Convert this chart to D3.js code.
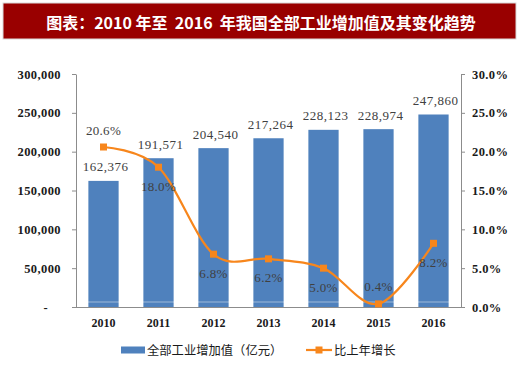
<!DOCTYPE html>
<html><head><meta charset="utf-8">
<script src="https://cdn.jsdelivr.net/npm/d3@7"></script>
<style>body{margin:0;background:#fff}svg{display:block}</style>
</head><body><svg id="c" width="520" height="368"></svg>
<script>
const years = ["2010","2011","2012","2013","2014","2015","2016"];
const valueAdded = [162376, 191571, 204540, 217264, 228123, 228974, 247860];
const growth = [20.6, 18.0, 6.8, 6.2, 5.0, 0.4, 8.2];
const leftTicks = [0, 50000, 100000, 150000, 200000, 250000, 300000];
const rightTicks = [0, 5, 10, 15, 20, 25, 30];
const growthLabelSide = ["above","below","below","below","below","above","below"];
const titleText = "图表：2010 年至  2016  年我国全部工业增加值及其变化趋势";
const legendBar = "全部工业增加值（亿元）";
const legendLine = "比上年增长";

const svg = d3.select("#c");
const W = 520, H = 368;
const m = {l:76, r:59, t:74, b:61};
const blue = "#4f81bd", orange = "#f7861c", axisCol = "#8c8c8c";
const serif = "'Liberation Serif','DejaVu Serif',serif";
const cjk = "'Noto Sans CJK SC','Noto Sans',sans-serif";

// title
svg.append("rect").attr("x",3).attr("y",3).attr("width",513).attr("height",36)
  .attr("fill","#990000").attr("stroke","#d9d9d9").attr("stroke-width",1);
svg.append("text").attr("x",261).attr("y",22).attr("text-anchor","middle")
  .attr("dominant-baseline","central").attr("fill","#fff")
  .attr("font-family",cjk).attr("font-weight","bold").attr("font-size",16)
  .attr("xml:space","preserve").style("white-space","pre").text(titleText);

const x = d3.scaleBand().domain(years).range([m.l, W-m.r]).paddingInner(0.45).paddingOuter(0.225);
const y = d3.scaleLinear().domain([0,300000]).range([H-m.b, m.t]);
const y2 = d3.scaleLinear().domain([0,30]).range([H-m.b, m.t]);

// bars
svg.append("g").selectAll("rect").data(years).join("rect")
  .attr("x", d=>x(d)).attr("width", x.bandwidth())
  .attr("y", (d,i)=>y(valueAdded[i])).attr("height",(d,i)=>y(0)-y(valueAdded[i]))
  .attr("fill", blue);
// faint light stripe near base
svg.append("line").attr("x1",m.l).attr("x2",W-m.r).attr("y1",y(0)-5).attr("y2",y(0)-5)
  .attr("stroke","#ffffff").attr("stroke-opacity",0.45).attr("stroke-width",1);

// axes
const fmtL = d => d===0 ? "-" : d3.format(",")(d);
const gl = svg.append("g").attr("transform",`translate(${m.l},0)`)
  .call(d3.axisLeft(y).tickValues(leftTicks).tickFormat(fmtL).tickSizeInner(4).tickSizeOuter(0).tickPadding(11));
const gr = svg.append("g").attr("transform",`translate(${W-m.r},0)`)
  .call(d3.axisRight(y2).tickValues(rightTicks).tickFormat(d=>d.toFixed(1)+"%").tickSizeInner(4).tickSizeOuter(0).tickPadding(7));
const gx = svg.append("g").attr("transform",`translate(0,${H-m.b})`)
  .call(d3.axisBottom(x).tickSize(0).tickPadding(11));
[gl,gr,gx].forEach(g=>{
  g.selectAll("path,line").attr("stroke",axisCol);
  g.selectAll("text").attr("fill","#1a1a1a").attr("font-family",serif)
   .attr("font-weight","bold").attr("font-size",12.5).style("letter-spacing","0.4px");
});
gl.selectAll(".tick text").filter(d=>d===0).attr("dx",-13);
gx.select(".domain").attr("d",`M${m.l},0.5H${W-m.r}`);
gx.selectAll("text").attr("font-size",12).style("letter-spacing","0px");

// bar labels
svg.append("g").selectAll("text").data(years).join("text")
  .attr("x", d=>x(d)+x.bandwidth()/2+2).attr("y",(d,i)=>y(valueAdded[i])-14)
  .attr("text-anchor","middle").attr("dominant-baseline","central")
  .attr("font-family",serif).attr("font-size",13).style("letter-spacing","0.5px")
  .attr("fill","#404040").text((d,i)=>d3.format(",")(valueAdded[i]));

// line
const cx = d => x(d)+x.bandwidth()/2;
const line = d3.line().x((d,i)=>cx(years[i])).y(d=>y2(d)).curve(d3.curveCardinal.tension(0));
svg.append("path").datum(growth).attr("d",line).attr("fill","none")
  .attr("stroke",orange).attr("stroke-width",2.2);
svg.append("g").selectAll("rect").data(growth).join("rect")
  .attr("x",(d,i)=>cx(years[i])-3.5).attr("y",d=>y2(d)-3.5).attr("width",7).attr("height",7)
  .attr("fill",orange);
svg.append("g").selectAll("text").data(growth).join("text")
  .attr("x",(d,i)=>cx(years[i])).attr("y",(d,i)=>y2(d)+(growthLabelSide[i]==="above"?-17:19))
  .attr("text-anchor","middle").attr("dominant-baseline","central")
  .attr("font-family",serif).attr("font-size",13).style("letter-spacing","0.3px")
  .attr("fill","#404040").text(d=>d.toFixed(1)+"%");

// legend
const ly = 350;
svg.append("rect").attr("x",121).attr("y",ly-3.5).attr("width",24).attr("height",7).attr("fill",blue);
svg.append("text").attr("x",147).attr("y",ly).attr("dominant-baseline","central")
  .attr("font-family",cjk).attr("font-size",12.3).attr("fill","#1a1a1a").text(legendBar);
svg.append("line").attr("x1",306).attr("x2",332).attr("y1",ly).attr("y2",ly).attr("stroke",orange).attr("stroke-width",2.2);
svg.append("rect").attr("x",315.5).attr("y",ly-3.5).attr("width",7).attr("height",7).attr("fill",orange);
svg.append("text").attr("x",334).attr("y",ly).attr("dominant-baseline","central")
  .attr("font-family",cjk).attr("font-size",12.3).attr("fill","#1a1a1a").text(legendLine);
</script></body></html>
